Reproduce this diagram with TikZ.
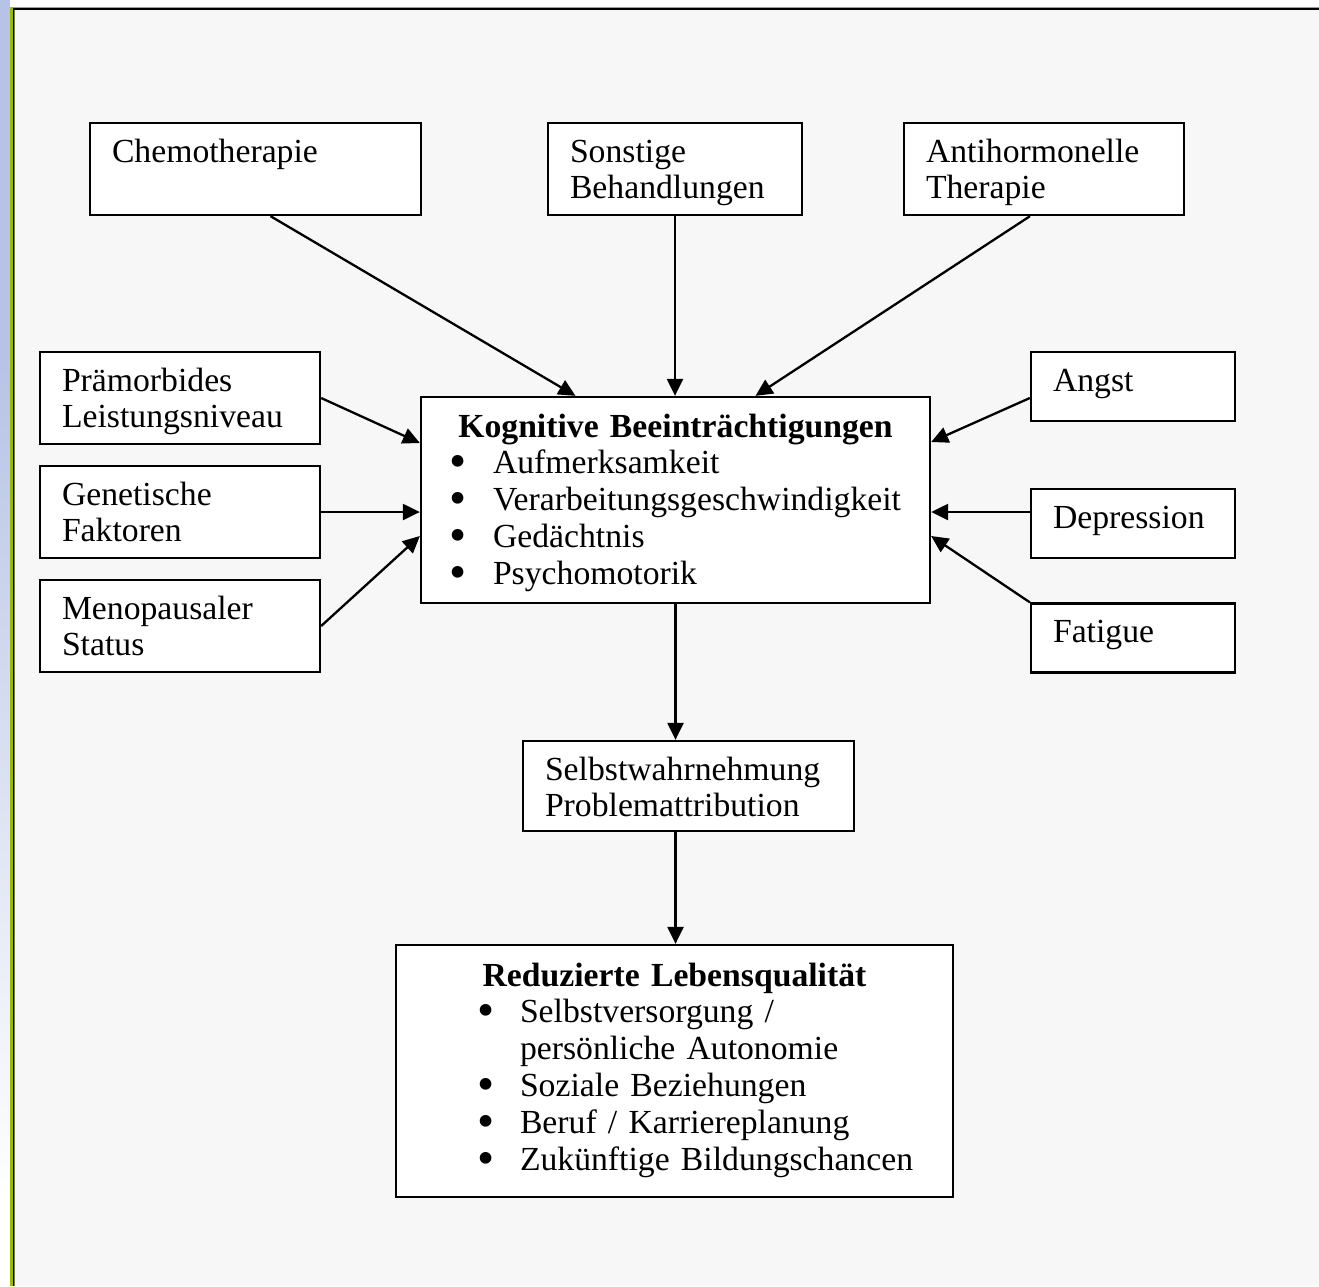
\documentclass[tikz,border=0pt]{standalone}
\usepackage{fontspec}
\setmainfont{Liberation Serif}
\usepackage{xcolor}
\usetikzlibrary{arrows.meta}
\definecolor{hintergrund}{HTML}{F7F7F7}
\definecolor{randblau}{HTML}{B6C3E5}
\definecolor{randgruen}{HTML}{99BB00}
\definecolor{randgrau}{HTML}{777777}
\newcommand{\punkt}{\raisebox{-4pt}[0pt][0pt]{\scalebox{1.45}{\textbullet}}}
\tikzset{
	kasten/.style={
			draw, fill=white, line width=2.3pt,
			inner xsep=22pt, inner ysep=0pt,
			align=left, text height=39pt
		},
	pfeil/.style={
			-{Triangle[length=17pt,width=16pt]}, line width=2.3pt
		}
}

\begin{document}
\begin{tikzpicture}[x=1pt, y=-1pt, every node/.style={font=\fontsize{33.7}{36.8}\selectfont}]
        \useasboundingbox (0, 0) rectangle (1319, 1286);
        \fill[white] (0, 0) rectangle (1319, 1286);
        \fill[hintergrund] (12, 8) rectangle (1319, 1286);
        \fill[randblau] (0, 0) rectangle (10, 350);
        \shade[top color=randblau, bottom color=white] (0, 350) rectangle (10, 1200);
        \fill[white] (0, 1200) rectangle (10, 1286);
        \fill[randgruen] (10, 7) rectangle (12.5, 1286);
        \fill[randgruen] (12.5, 7) rectangle (1319, 8);
        \fill[black] (12.5, 8) rectangle (1319, 10);
        \fill[black] (12.5, 8) rectangle (14, 1286);
        \fill[randgrau] (14, 10) rectangle (15, 1286);
        \node[kasten, text width=287pt, text depth=53pt] (chemo) at (255.5, 169) {Chemotherapie};
        \node[kasten, text width=210pt, text depth=53pt] (sonstige) at (675, 169) {Sonstige\\Behandlungen};
        \node[kasten, text width=236pt, text depth=53pt] (antihorm) at (1044, 169) {Antihormonelle\\Therapie};
        \node[kasten, text width=236pt, text depth=53pt] (praem) at (180, 398) {Prämorbides\\Leistungsniveau};
        \node[kasten, text width=236pt, text depth=53pt] (genet) at (180, 512) {Genetische\\Faktoren};
        \node[kasten, text width=236pt, text depth=53pt] (meno) at (180, 626) {Menopausaler\\Status};
        \node[kasten, text width=160pt, text depth=30pt] (angst) at (1133, 386.5) {Angst};
        \node[kasten, text width=160pt, text depth=30pt] (depr) at (1133, 523.5) {Depression};
        \node[kasten, text width=160pt, text depth=30pt] (fatigue) at (1133, 638) {Fatigue};
        \node[kasten, text width=465pt, text height=40pt, text depth=166pt] (kogn) at (675.5, 500) {\makebox[465pt]{\textbf{Kognitive Beeinträchtigungen}}\\
            \hspace*{6pt}\makebox[44pt][l]{\punkt}Aufmerksamkeit\\
            \hspace*{6pt}\makebox[44pt][l]{\punkt}Verarbeitungsgeschwindigkeit\\
            \hspace*{6pt}\makebox[44pt][l]{\punkt}Gedächtnis\\
            \hspace*{6pt}\makebox[44pt][l]{\punkt}Psychomotorik};
        \node[kasten, text width=287pt, text depth=51pt] (selbst) at (688.5, 786) {Selbstwahrnehmung\\Problemattribution};
        \node[kasten, text width=513pt, text height=41pt, text depth=211pt] (lebens) at (674.5, 1071) {\makebox[513pt]{\textbf{Reduzierte Lebensqualität}}\\
            \hspace*{59pt}\makebox[43pt][l]{\punkt}Selbstversorgung /\\
            \hspace*{102pt}persönliche Autonomie\\
            \hspace*{59pt}\makebox[43pt][l]{\punkt}Soziale Beziehungen\\
            \hspace*{59pt}\makebox[43pt][l]{\punkt}Beruf / Karriereplanung\\
            \hspace*{59pt}\makebox[43pt][l]{\punkt}Zukünftige Bildungschancen};
        \draw[pfeil] ([xshift=15pt]chemo.south) -- ([xshift=-100pt]kogn.north);
        \draw[pfeil] (sonstige.south) -- (sonstige.south |- kogn.north);
        \draw[pfeil] ([xshift=-14pt]antihorm.south) -- ([xshift=80pt]kogn.north);
        \draw[pfeil] (praem.east) -- ([yshift=57pt]kogn.west);
        \draw[pfeil] (genet.east) -- (genet.east -| kogn.west);
        \draw[pfeil] (meno.east) -- ([yshift=-36pt]kogn.west);
        \draw[pfeil] ([yshift=-11.5pt]angst.west) -- ([yshift=58pt]kogn.east);
        \draw[pfeil] ([yshift=11.5pt]depr.west) -- ([yshift=11.5pt]depr.west -| kogn.east);
        \draw[pfeil] (fatigue.north west) -- ([yshift=-36pt]kogn.east);
        \draw[pfeil] (kogn.south) -- (kogn.south |- selbst.north);
        \draw[pfeil] (kogn.south |- selbst.south) -- (kogn.south |- lebens.north);
    \end{tikzpicture}
\end{document}
